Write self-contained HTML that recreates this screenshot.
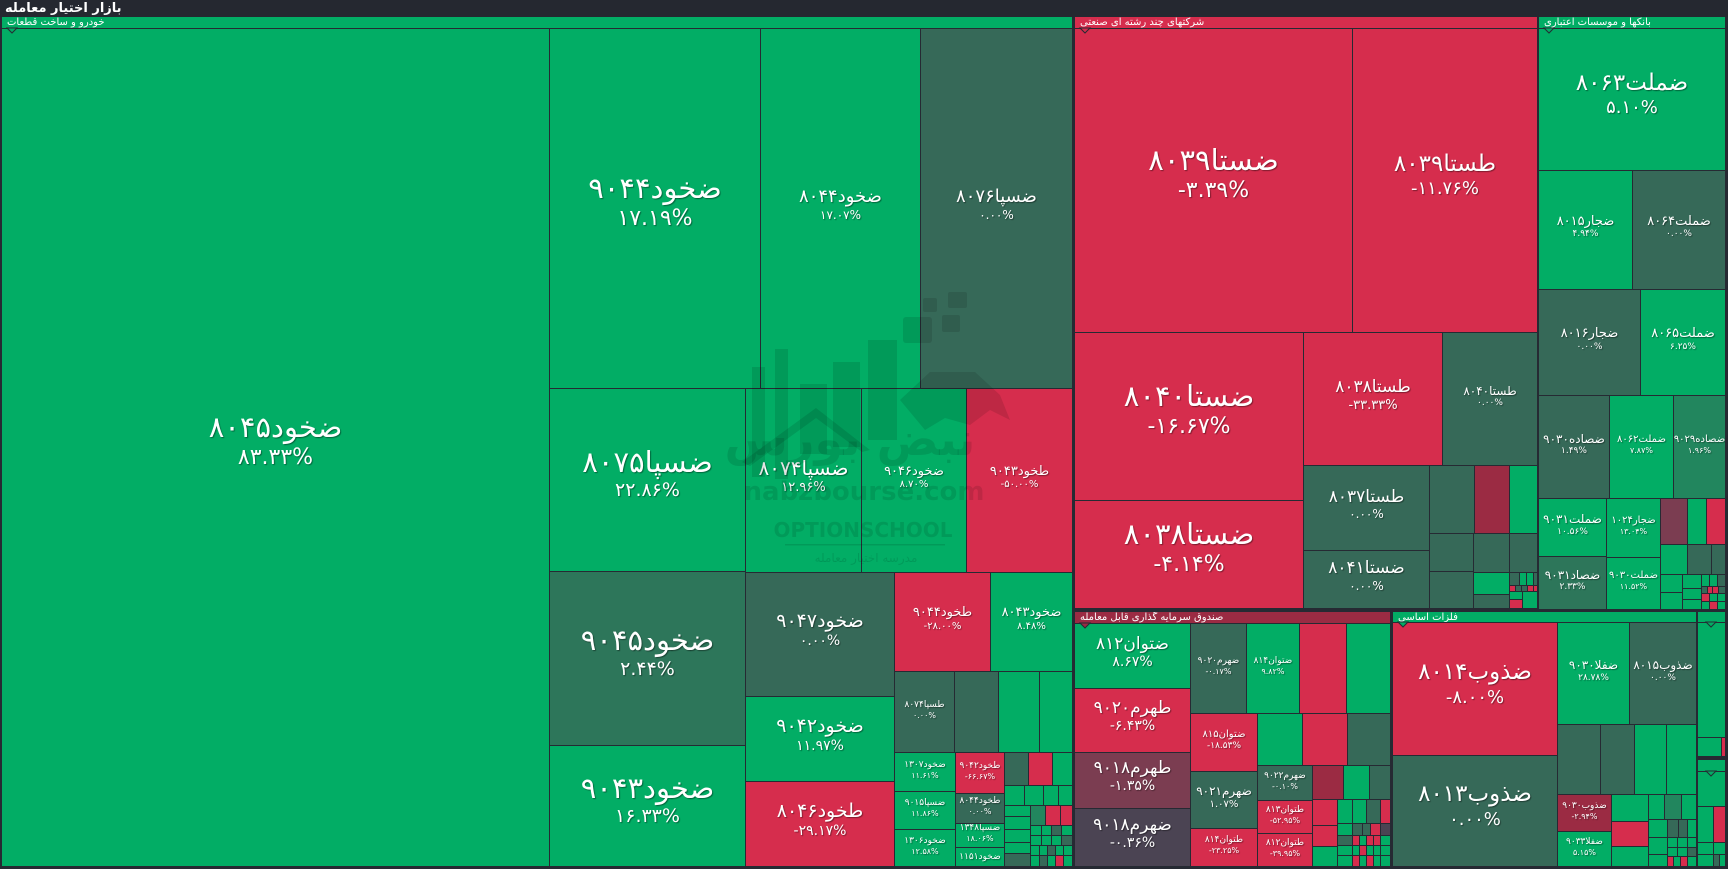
<!DOCTYPE html>
<html><head><meta charset="utf-8">
<style>
*{box-sizing:border-box}
body{margin:0;width:1728px;height:869px;background:#262a33;position:relative;overflow:hidden;font-family:"DejaVu Sans","Liberation Sans",sans-serif}
.t{position:absolute;display:flex;flex-direction:column;align-items:center;justify-content:center;color:#fff;overflow:hidden;text-shadow:1px 1px 1px rgba(0,0,0,.4)}
.n{direction:rtl;white-space:nowrap;line-height:1.2;margin-top:-0.45em}
.p{direction:ltr;white-space:nowrap;line-height:1.2}
.g{background:#02ad65}.d{background:#366958}.r{background:#d62d4d}.dr{background:#9b2b43}
.pu{background:#7b3d51}.gp{background:#4b4453}.m{background:#22865e}.m2{background:#2d765a}
.h{position:absolute;color:#fff;font-size:10px;line-height:11px;padding-left:5px;white-space:nowrap;overflow:hidden}
.ttl{position:absolute;left:5px;top:1px;color:#fff;font-size:13px;font-weight:bold;line-height:15px;direction:rtl}
</style></head><body>
<div style="position:absolute;left:0;top:0;width:1728px;height:17px;background:#252830"></div>
<div class="ttl">بازار اختیار معامله</div>

<!-- Sector 1 -->
<div class="h g" style="left:2px;top:17px;width:1070px;height:11px"><span>خودرو و ساخت قطعات</span></div>
<div class="t g" style="left:2px;top:29px;width:547px;height:837px"><div class="n" style="font-size:29px">ضخود۸۰۴۵</div><div class="p" style="font-size:22px">۸۳.۳۳%</div></div>
<div class="t g" style="left:550px;top:29px;width:210px;height:359px"><div class="n" style="font-size:29px">ضخود۹۰۴۴</div><div class="p" style="font-size:22px">۱۷.۱۹%</div></div>
<div class="t g" style="left:761px;top:29px;width:159px;height:359px"><div class="n" style="font-size:18px">ضخود۸۰۴۴</div><div class="p" style="font-size:12px">۱۷.۰۷%</div></div>
<div class="t d" style="left:921px;top:29px;width:151px;height:359px"><div class="n" style="font-size:18px">ضسپا۸۰۷۶</div><div class="p" style="font-size:12px">۰.۰۰%</div></div>
<div class="t g" style="left:550px;top:389px;width:195px;height:182px"><div class="n" style="font-size:29px">ضسپا۸۰۷۵</div><div class="p" style="font-size:19px">۲۲.۸۶%</div></div>
<div class="t m2" style="left:550px;top:572px;width:195px;height:173px"><div class="n" style="font-size:29px">ضخود۹۰۴۵</div><div class="p" style="font-size:19px">۲.۴۴%</div></div>
<div class="t g" style="left:550px;top:746px;width:195px;height:120px"><div class="n" style="font-size:29px">ضخود۹۰۴۳</div><div class="p" style="font-size:19px">۱۶.۳۳%</div></div>
<div class="t g" style="left:746px;top:389px;width:115px;height:183px"><div class="n" style="font-size:20px">ضسپا۸۰۷۴</div><div class="p" style="font-size:13px">۱۲.۹۶%</div></div>
<div class="t g" style="left:862px;top:389px;width:104px;height:183px"><div class="n" style="font-size:13px">ضخود۹۰۴۶</div><div class="p" style="font-size:10px">۸.۷۰%</div></div>
<div class="t r" style="left:967px;top:389px;width:105px;height:183px"><div class="n" style="font-size:13px">طخود۹۰۴۳</div><div class="p" style="font-size:10px">-۵۰.۰۰%</div></div>
<div class="t d" style="left:746px;top:573px;width:148px;height:123px"><div class="n" style="font-size:19px">ضخود۹۰۴۷</div><div class="p" style="font-size:14px">۰.۰۰%</div></div>
<div class="t g" style="left:746px;top:697px;width:148px;height:84px"><div class="n" style="font-size:19px">ضخود۹۰۴۲</div><div class="p" style="font-size:14px">۱۱.۹۷%</div></div>
<div class="t r" style="left:746px;top:782px;width:148px;height:84px"><div class="n" style="font-size:19px">طخود۸۰۴۶</div><div class="p" style="font-size:14px">-۲۹.۱۷%</div></div>
<div class="t r" style="left:895px;top:573px;width:95px;height:98px"><div class="n" style="font-size:13px">طخود۹۰۴۴</div><div class="p" style="font-size:10px">-۲۸.۰۰%</div></div>
<div class="t g" style="left:991px;top:573px;width:81px;height:98px"><div class="n" style="font-size:13px">ضخود۸۰۴۳</div><div class="p" style="font-size:10px">۸.۴۸%</div></div>
<div class="t d" style="left:895px;top:672px;width:59px;height:80px"><div class="n" style="font-size:9px">طسپا۸۰۷۴</div><div class="p" style="font-size:8px">۰.۰۰%</div></div>
<div class="t d" style="left:955px;top:672px;width:43px;height:80px"></div>
<div class="t g" style="left:999px;top:672px;width:40px;height:80px"></div>
<div class="t g" style="left:1040px;top:672px;width:32px;height:80px"></div>
<div class="t g" style="left:895px;top:753px;width:60px;height:38px"><div class="n" style="font-size:9px">ضخود۱۳۰۷</div><div class="p" style="font-size:8px">۱۱.۶۱%</div></div>
<div class="t g" style="left:895px;top:792px;width:60px;height:37px"><div class="n" style="font-size:9px">ضسپا۹۰۱۵</div><div class="p" style="font-size:8px">۱۱.۸۶%</div></div>
<div class="t g" style="left:895px;top:830px;width:60px;height:36px"><div class="n" style="font-size:9px">ضخود۱۳۰۶</div><div class="p" style="font-size:8px">۱۲.۵۸%</div></div>
<div class="t r" style="left:956px;top:753px;width:48px;height:40px"><div class="n" style="font-size:9px">طخود۹۰۴۲</div><div class="p" style="font-size:8px">-۶۶.۶۷%</div></div>
<div class="t d" style="left:956px;top:794px;width:48px;height:29px"><div class="n" style="font-size:9px">طخود۸۰۴۴</div><div class="p" style="font-size:8px">۰.۰۰%</div></div>
<div class="t g" style="left:956px;top:824px;width:48px;height:23px"><div class="n" style="font-size:9px">ضسپا۱۳۴۸</div><div class="p" style="font-size:8px">۱۸.۰۶%</div></div>
<div class="t g" style="left:956px;top:848px;width:48px;height:18px"><div class="n" style="font-size:9px;margin-top:0">ضخود۱۱۵۱</div></div>
<div class="t d" style="left:1005px;top:753px;width:23px;height:32px"></div>
<div class="t r" style="left:1029px;top:753px;width:23px;height:32px"></div>
<div class="t g" style="left:1053px;top:753px;width:19px;height:32px"></div>
<div class="t g" style="left:1005px;top:786px;width:19px;height:19px"></div>
<div class="t g" style="left:1025px;top:786px;width:18px;height:19px"></div>
<div class="t g" style="left:1044px;top:786px;width:14px;height:19px"></div>
<div class="t g" style="left:1059px;top:786px;width:13px;height:19px"></div>
<div class="t g" style="left:1005px;top:806px;width:25px;height:10px"></div>
<div class="t g" style="left:1005px;top:817px;width:25px;height:12px"></div>
<div class="t g" style="left:1005px;top:830px;width:25px;height:12px"></div>
<div class="t g" style="left:1005px;top:843px;width:25px;height:10px"></div>
<div class="t d" style="left:1005px;top:854px;width:25px;height:12px"></div>
<div class="t m" style="left:1031px;top:806px;width:14px;height:19px"></div>
<div class="t r" style="left:1046px;top:806px;width:14px;height:19px"></div>
<div class="t r" style="left:1061px;top:806px;width:11px;height:19px"></div>
<div class="t g" style="left:1031px;top:826px;width:10px;height:9px"></div>
<div class="t g" style="left:1042px;top:826px;width:9px;height:9px"></div>
<div class="t d" style="left:1052px;top:826px;width:9px;height:9px"></div>
<div class="t g" style="left:1062px;top:826px;width:10px;height:9px"></div>
<div class="t g" style="left:1031px;top:836px;width:10px;height:9px"></div>
<div class="t g" style="left:1042px;top:836px;width:9px;height:9px"></div>
<div class="t g" style="left:1052px;top:836px;width:9px;height:9px"></div>
<div class="t d" style="left:1062px;top:836px;width:10px;height:9px"></div>
<div class="t g" style="left:1031px;top:846px;width:8px;height:9px"></div>
<div class="t g" style="left:1040px;top:846px;width:7px;height:9px"></div>
<div class="t d" style="left:1048px;top:846px;width:7px;height:9px"></div>
<div class="t g" style="left:1056px;top:846px;width:7px;height:9px"></div>
<div class="t g" style="left:1064px;top:846px;width:8px;height:9px"></div>
<div class="t g" style="left:1031px;top:856px;width:8px;height:10px"></div>
<div class="t d" style="left:1040px;top:856px;width:7px;height:10px"></div>
<div class="t g" style="left:1048px;top:856px;width:7px;height:10px"></div>
<div class="t r" style="left:1056px;top:856px;width:7px;height:10px"></div>
<div class="t g" style="left:1064px;top:856px;width:8px;height:10px"></div>

<!-- Sector 2 -->
<div class="h r" style="left:1075px;top:17px;width:462px;height:11px"><span>شرکتهای چند رشته ای صنعتی</span></div>
<div class="t r" style="left:1075px;top:29px;width:277px;height:303px"><div class="n" style="font-size:29px">ضستا۸۰۳۹</div><div class="p" style="font-size:22px">-۳.۳۹%</div></div>
<div class="t r" style="left:1353px;top:29px;width:184px;height:303px"><div class="n" style="font-size:23px">طستا۸۰۳۹</div><div class="p" style="font-size:18px">-۱۱.۷۶%</div></div>
<div class="t r" style="left:1075px;top:333px;width:228px;height:167px"><div class="n" style="font-size:29px">ضستا۸۰۴۰</div><div class="p" style="font-size:22px">-۱۶.۶۷%</div></div>
<div class="t r" style="left:1075px;top:501px;width:228px;height:107px"><div class="n" style="font-size:29px">ضستا۸۰۳۸</div><div class="p" style="font-size:22px">-۴.۱۴%</div></div>
<div class="t r" style="left:1304px;top:333px;width:138px;height:132px"><div class="n" style="font-size:17px">طستا۸۰۳۸</div><div class="p" style="font-size:13px">-۳۳.۳۳%</div></div>
<div class="t d" style="left:1443px;top:333px;width:94px;height:132px"><div class="n" style="font-size:12px">طستا۸۰۴۰</div><div class="p" style="font-size:9px">۰.۰۰%</div></div>
<div class="t d" style="left:1304px;top:466px;width:125px;height:84px"><div class="n" style="font-size:17px">طستا۸۰۳۷</div><div class="p" style="font-size:12px">۰.۰۰%</div></div>
<div class="t d" style="left:1304px;top:551px;width:125px;height:57px"><div class="n" style="font-size:17px">ضستا۸۰۴۱</div><div class="p" style="font-size:12px">۰.۰۰%</div></div>
<div class="t d" style="left:1430px;top:466px;width:44px;height:67px"></div>
<div class="t dr" style="left:1475px;top:466px;width:34px;height:67px"></div>
<div class="t g" style="left:1510px;top:466px;width:27px;height:67px"></div>
<div class="t d" style="left:1430px;top:534px;width:43px;height:37px"></div>
<div class="t d" style="left:1474px;top:534px;width:35px;height:38px"></div>
<div class="t d" style="left:1510px;top:534px;width:27px;height:38px"></div>
<div class="t d" style="left:1430px;top:572px;width:43px;height:36px"></div>
<div class="t g" style="left:1474px;top:573px;width:35px;height:21px"></div>
<div class="t d" style="left:1474px;top:595px;width:35px;height:13px"></div>
<div class="t d" style="left:1510px;top:573px;width:9px;height:12px"></div>
<div class="t g" style="left:1520px;top:573px;width:6px;height:12px"></div>
<div class="t g" style="left:1527px;top:573px;width:6px;height:12px"></div>
<div class="t d" style="left:1534px;top:573px;width:3px;height:12px"></div>
<div class="t r" style="left:1510px;top:586px;width:5px;height:5px"></div>
<div class="t d" style="left:1516px;top:586px;width:5px;height:5px"></div>
<div class="t d" style="left:1522px;top:586px;width:5px;height:5px"></div>
<div class="t r" style="left:1528px;top:586px;width:5px;height:5px"></div>
<div class="t r" style="left:1534px;top:586px;width:3px;height:5px"></div>
<div class="t g" style="left:1510px;top:592px;width:12px;height:7px"></div>
<div class="t r" style="left:1510px;top:600px;width:12px;height:8px"></div>
<div class="t g" style="left:1523px;top:592px;width:14px;height:16px"></div>

<!-- Banks -->
<div class="h g" style="left:1539px;top:17px;width:186px;height:11px"><span>بانکها و موسسات اعتباری</span></div>
<div class="t g" style="left:1539px;top:29px;width:186px;height:141px"><div class="n" style="font-size:23px">ضملت۸۰۶۳</div><div class="p" style="font-size:18px">۵.۱۰%</div></div>
<div class="t g" style="left:1539px;top:171px;width:93px;height:118px"><div class="n" style="font-size:13px">ضجار۸۰۱۵</div><div class="p" style="font-size:9px">۴.۹۴%</div></div>
<div class="t d" style="left:1633px;top:171px;width:92px;height:118px"><div class="n" style="font-size:13px">ضملت۸۰۶۴</div><div class="p" style="font-size:9px">۰.۰۰%</div></div>
<div class="t d" style="left:1539px;top:290px;width:101px;height:105px"><div class="n" style="font-size:13px">ضجار۸۰۱۶</div><div class="p" style="font-size:9px">۰.۰۰%</div></div>
<div class="t g" style="left:1641px;top:290px;width:84px;height:105px"><div class="n" style="font-size:13px">ضملت۸۰۶۵</div><div class="p" style="font-size:9px">۶.۲۵%</div></div>
<div class="t d" style="left:1539px;top:396px;width:70px;height:102px"><div class="n" style="font-size:12px">ضصاده۹۰۳۰</div><div class="p" style="font-size:9px">۱.۴۹%</div></div>
<div class="t g" style="left:1610px;top:396px;width:63px;height:102px"><div class="n" style="font-size:10px">ضملت۸۰۶۲</div><div class="p" style="font-size:8px">۷.۸۷%</div></div>
<div class="t m" style="left:1674px;top:396px;width:51px;height:102px"><div class="n" style="font-size:10px">ضصاده۹۰۲۹</div><div class="p" style="font-size:8px">۱.۹۶%</div></div>
<div class="t g" style="left:1539px;top:499px;width:67px;height:57px"><div class="n" style="font-size:12px">ضملت۹۰۳۱</div><div class="p" style="font-size:9px">۱۰.۵۶%</div></div>
<div class="t m2" style="left:1539px;top:557px;width:67px;height:52px"><div class="n" style="font-size:12px">ضصاد۹۰۳۱</div><div class="p" style="font-size:9px">۲.۳۳%</div></div>
<div class="t g" style="left:1607px;top:499px;width:53px;height:58px"><div class="n" style="font-size:10px">ضجار۱۰۲۴</div><div class="p" style="font-size:8px">۱۳.۰۴%</div></div>
<div class="t g" style="left:1607px;top:558px;width:53px;height:51px"><div class="n" style="font-size:10px">ضملت۹۰۳۰</div><div class="p" style="font-size:8px">۱۱.۵۲%</div></div>
<div class="t pu" style="left:1661px;top:499px;width:26px;height:45px"></div>
<div class="t g" style="left:1688px;top:499px;width:18px;height:45px"></div>
<div class="t r" style="left:1707px;top:499px;width:18px;height:45px"></div>
<div class="t g" style="left:1661px;top:545px;width:26px;height:29px"></div>
<div class="t d" style="left:1688px;top:545px;width:23px;height:29px"></div>
<div class="t d" style="left:1712px;top:545px;width:13px;height:29px"></div>
<div class="t g" style="left:1661px;top:575px;width:21px;height:17px"></div>
<div class="t g" style="left:1661px;top:593px;width:21px;height:16px"></div>
<div class="t g" style="left:1683px;top:575px;width:18px;height:13px"></div>
<div class="t g" style="left:1683px;top:589px;width:18px;height:10px"></div>
<div class="t g" style="left:1683px;top:600px;width:18px;height:9px"></div>
<div class="t g" style="left:1702px;top:575px;width:7px;height:11px"></div>
<div class="t g" style="left:1710px;top:575px;width:7px;height:11px"></div>
<div class="t d" style="left:1718px;top:575px;width:7px;height:11px"></div>
<div class="t d" style="left:1702px;top:587px;width:5px;height:6px"></div>
<div class="t r" style="left:1708px;top:587px;width:4px;height:6px"></div>
<div class="t r" style="left:1713px;top:587px;width:5px;height:6px"></div>
<div class="t d" style="left:1719px;top:587px;width:6px;height:6px"></div>
<div class="t r" style="left:1702px;top:594px;width:7px;height:7px"></div>
<div class="t g" style="left:1710px;top:594px;width:7px;height:7px"></div>
<div class="t g" style="left:1718px;top:594px;width:7px;height:7px"></div>
<div class="t g" style="left:1702px;top:602px;width:7px;height:7px"></div>
<div class="t r" style="left:1710px;top:602px;width:7px;height:7px"></div>
<div class="t g" style="left:1718px;top:602px;width:7px;height:7px"></div>

<!-- ETF sector -->
<div class="h dr" style="left:1075px;top:612px;width:315px;height:11px"><span>صندوق سرمایه گذاری قابل معامله</span></div>
<div class="t g" style="left:1075px;top:624px;width:115px;height:64px"><div class="n" style="font-size:17px">ضتوان۸۱۲</div><div class="p" style="font-size:14px">۸.۶۷%</div></div>
<div class="t r" style="left:1075px;top:689px;width:115px;height:63px"><div class="n" style="font-size:17px">طهرم۹۰۲۰</div><div class="p" style="font-size:14px">-۶.۴۳%</div></div>
<div class="t pu" style="left:1075px;top:753px;width:115px;height:55px"><div class="n" style="font-size:17px">طهرم۹۰۱۸</div><div class="p" style="font-size:14px">-۱.۳۵%</div></div>
<div class="t gp" style="left:1075px;top:809px;width:115px;height:57px"><div class="n" style="font-size:17px">ضهرم۹۰۱۸</div><div class="p" style="font-size:14px">-۰.۳۶%</div></div>
<div class="t d" style="left:1191px;top:624px;width:55px;height:89px"><div class="n" style="font-size:9px">ضهرم۹۰۲۰</div><div class="p" style="font-size:8px">-۰.۱۷%</div></div>
<div class="t g" style="left:1247px;top:624px;width:52px;height:89px"><div class="n" style="font-size:9px">ضتوان۸۱۴</div><div class="p" style="font-size:8px">۹.۸۲%</div></div>
<div class="t r" style="left:1300px;top:624px;width:46px;height:89px"></div>
<div class="t g" style="left:1347px;top:624px;width:43px;height:89px"></div>
<div class="t r" style="left:1191px;top:714px;width:66px;height:57px"><div class="n" style="font-size:10px">ضتوان۸۱۵</div><div class="p" style="font-size:9px">-۱۸.۵۳%</div></div>
<div class="t g" style="left:1258px;top:714px;width:44px;height:51px"></div>
<div class="t r" style="left:1303px;top:714px;width:44px;height:51px"></div>
<div class="t d" style="left:1348px;top:714px;width:42px;height:51px"></div>
<div class="t d" style="left:1191px;top:772px;width:66px;height:56px"><div class="n" style="font-size:12px">ضهرم۹۰۲۱</div><div class="p" style="font-size:10px">۱.۰۷%</div></div>
<div class="t r" style="left:1191px;top:829px;width:66px;height:37px"><div class="n" style="font-size:9px">طتوان۸۱۴</div><div class="p" style="font-size:8px">-۲۳.۲۵%</div></div>
<div class="t d" style="left:1258px;top:766px;width:54px;height:34px"><div class="n" style="font-size:9px">ضهرم۹۰۲۲</div><div class="p" style="font-size:8px">-۰.۱۰%</div></div>
<div class="t r" style="left:1258px;top:801px;width:54px;height:32px"><div class="n" style="font-size:9px">طتوان۸۱۳</div><div class="p" style="font-size:8px">-۵۲.۹۵%</div></div>
<div class="t r" style="left:1258px;top:834px;width:54px;height:32px"><div class="n" style="font-size:9px">طتوان۸۱۲</div><div class="p" style="font-size:8px">-۳۹.۹۵%</div></div>
<div class="t dr" style="left:1313px;top:766px;width:30px;height:33px"></div>
<div class="t g" style="left:1344px;top:766px;width:25px;height:33px"></div>
<div class="t d" style="left:1370px;top:766px;width:20px;height:33px"></div>
<div class="t r" style="left:1313px;top:800px;width:24px;height:25px"></div>
<div class="t r" style="left:1313px;top:826px;width:24px;height:20px"></div>
<div class="t g" style="left:1313px;top:847px;width:24px;height:19px"></div>
<div class="t g" style="left:1338px;top:800px;width:14px;height:23px"></div>
<div class="t g" style="left:1353px;top:800px;width:13px;height:23px"></div>
<div class="t d" style="left:1367px;top:800px;width:13px;height:23px"></div>
<div class="t r" style="left:1381px;top:800px;width:9px;height:23px"></div>
<div class="t g" style="left:1338px;top:824px;width:14px;height:11px"></div>
<div class="t d" style="left:1338px;top:836px;width:14px;height:9px"></div>
<div class="t g" style="left:1338px;top:846px;width:14px;height:9px"></div>
<div class="t g" style="left:1338px;top:856px;width:14px;height:10px"></div>
<div class="t d" style="left:1353px;top:824px;width:9px;height:11px"></div>
<div class="t d" style="left:1363px;top:824px;width:7px;height:11px"></div>
<div class="t r" style="left:1371px;top:824px;width:9px;height:11px"></div>
<div class="t gp" style="left:1381px;top:824px;width:9px;height:11px"></div>
<div class="t r" style="left:1353px;top:836px;width:6px;height:9px"></div>
<div class="t g" style="left:1360px;top:836px;width:6px;height:9px"></div>
<div class="t r" style="left:1367px;top:836px;width:6px;height:9px"></div>
<div class="t r" style="left:1374px;top:836px;width:6px;height:9px"></div>
<div class="t g" style="left:1381px;top:836px;width:9px;height:9px"></div>
<div class="t g" style="left:1353px;top:846px;width:6px;height:9px"></div>
<div class="t r" style="left:1360px;top:846px;width:6px;height:9px"></div>
<div class="t g" style="left:1367px;top:846px;width:6px;height:9px"></div>
<div class="t g" style="left:1374px;top:846px;width:6px;height:9px"></div>
<div class="t g" style="left:1381px;top:846px;width:9px;height:9px"></div>
<div class="t r" style="left:1353px;top:856px;width:6px;height:10px"></div>
<div class="t g" style="left:1360px;top:856px;width:6px;height:10px"></div>
<div class="t r" style="left:1367px;top:856px;width:6px;height:10px"></div>
<div class="t g" style="left:1374px;top:856px;width:6px;height:10px"></div>
<div class="t g" style="left:1381px;top:856px;width:9px;height:10px"></div>

<!-- Base metals -->
<div class="h g" style="left:1393px;top:612px;width:303px;height:10px"><span>فلزات اساسی</span></div>
<div class="t r" style="left:1393px;top:623px;width:164px;height:132px"><div class="n" style="font-size:23px">ضذوب۸۰۱۴</div><div class="p" style="font-size:18px">-۸.۰۰%</div></div>
<div class="t d" style="left:1393px;top:756px;width:164px;height:110px"><div class="n" style="font-size:23px">ضذوب۸۰۱۳</div><div class="p" style="font-size:18px">۰.۰۰%</div></div>
<div class="t g" style="left:1558px;top:623px;width:71px;height:101px"><div class="n" style="font-size:12px">ضفلا۹۰۳۰</div><div class="p" style="font-size:9px">۲۸.۷۸%</div></div>
<div class="t d" style="left:1630px;top:623px;width:66px;height:101px"><div class="n" style="font-size:12px">ضذوب۸۰۱۵</div><div class="p" style="font-size:9px">۰.۰۰%</div></div>
<div class="t d" style="left:1558px;top:725px;width:42px;height:69px"></div>
<div class="t d" style="left:1601px;top:725px;width:33px;height:69px"></div>
<div class="t g" style="left:1635px;top:725px;width:31px;height:69px"></div>
<div class="t g" style="left:1667px;top:725px;width:29px;height:69px"></div>
<div class="t dr" style="left:1558px;top:795px;width:53px;height:36px"><div class="n" style="font-size:9px">ضذوب۹۰۳۰</div><div class="p" style="font-size:8px">-۲.۹۴%</div></div>
<div class="t g" style="left:1558px;top:832px;width:53px;height:34px"><div class="n" style="font-size:9px">ضفلا۹۰۳۳</div><div class="p" style="font-size:8px">۵.۱۵%</div></div>
<div class="t g" style="left:1612px;top:795px;width:36px;height:26px"></div>
<div class="t r" style="left:1612px;top:822px;width:36px;height:24px"></div>
<div class="t g" style="left:1612px;top:847px;width:36px;height:19px"></div>
<div class="t g" style="left:1649px;top:795px;width:15px;height:24px"></div>
<div class="t m" style="left:1665px;top:795px;width:16px;height:24px"></div>
<div class="t g" style="left:1682px;top:795px;width:14px;height:24px"></div>
<div class="t g" style="left:1649px;top:820px;width:18px;height:17px"></div>
<div class="t d" style="left:1668px;top:820px;width:10px;height:17px"></div>
<div class="t d" style="left:1679px;top:820px;width:8px;height:17px"></div>
<div class="t g" style="left:1688px;top:820px;width:8px;height:17px"></div>
<div class="t g" style="left:1649px;top:838px;width:18px;height:16px"></div>
<div class="t g" style="left:1649px;top:855px;width:18px;height:11px"></div>
<div class="t g" style="left:1668px;top:838px;width:9px;height:9px"></div>
<div class="t g" style="left:1678px;top:838px;width:9px;height:9px"></div>
<div class="t g" style="left:1688px;top:838px;width:8px;height:9px"></div>
<div class="t g" style="left:1668px;top:848px;width:9px;height:8px"></div>
<div class="t g" style="left:1678px;top:848px;width:9px;height:8px"></div>
<div class="t d" style="left:1688px;top:848px;width:8px;height:8px"></div>
<div class="t r" style="left:1668px;top:857px;width:5px;height:9px"></div>
<div class="t g" style="left:1674px;top:857px;width:6px;height:9px"></div>
<div class="t r" style="left:1681px;top:857px;width:6px;height:9px"></div>
<div class="t g" style="left:1688px;top:857px;width:8px;height:9px"></div>

<!-- Right narrow sectors -->
<div class="h g" style="left:1698px;top:612px;width:27px;height:10px"></div>
<div class="t g" style="left:1698px;top:623px;width:27px;height:114px"></div>
<div class="t g" style="left:1698px;top:738px;width:23px;height:18px"></div>
<div class="t r" style="left:1722px;top:738px;width:3px;height:18px"></div>
<div class="h g" style="left:1698px;top:760px;width:27px;height:11px"></div>
<div class="t g" style="left:1698px;top:772px;width:27px;height:34px"></div>
<div class="t g" style="left:1698px;top:807px;width:15px;height:35px"></div>
<div class="t r" style="left:1714px;top:807px;width:11px;height:35px"></div>
<div class="t g" style="left:1698px;top:843px;width:15px;height:11px"></div>
<div class="t g" style="left:1714px;top:843px;width:11px;height:11px"></div>
<div class="t g" style="left:1698px;top:855px;width:15px;height:11px"></div>
<div class="t d" style="left:1714px;top:855px;width:5px;height:11px"></div>
<div class="t g" style="left:1720px;top:855px;width:5px;height:11px"></div>

<!-- header chevrons + watermark -->
<svg width="1728" height="869" style="position:absolute;left:0;top:0;pointer-events:none" xmlns="http://www.w3.org/2000/svg">
<g stroke="#262a33" stroke-width="1">
<polygon points="7,28 17,28 12,33" fill="#02ad65"/>
<polygon points="1080,28 1090,28 1085,33" fill="#d62d4d"/>
<polygon points="1544,28 1554,28 1549,33" fill="#02ad65"/>
<polygon points="1080,623 1090,623 1085,628" fill="#9b2b43"/>
<polygon points="1398,622 1408,622 1403,627" fill="#02ad65"/>
<polygon points="1706,622 1716,622 1711,627" fill="#02ad65"/>
<polygon points="1706,771 1716,771 1711,776" fill="#02ad65"/>
</g>
<g fill="rgba(0,0,0,0.11)">
<rect x="752" y="367" width="13" height="110"/>
<rect x="775" y="349" width="13" height="130"/>
<rect x="800" y="384" width="27" height="70"/>
<rect x="833" y="362" width="27" height="85"/>
<rect x="868" y="340" width="29" height="100"/>
<rect x="903" y="317" width="29" height="26" rx="3"/>
<rect x="923" y="298" width="14" height="14" rx="2"/>
<rect x="948" y="292" width="19" height="16" rx="2"/>
<rect x="942" y="315" width="18" height="17" rx="2"/>
<polygon points="900,400 930,372 975,372 1000,395 1010,420 990,410 970,425 945,418 925,430"/>
<polygon points="742,462 816,408 870,450 862,452 816,418 750,466"/>
<text x="850" y="455" font-size="46" font-weight="bold" text-anchor="middle" font-family="DejaVu Sans, sans-serif" direction="rtl">نبض بورس</text>
<text x="864" y="500" font-size="26" font-weight="bold" text-anchor="middle" font-family="DejaVu Sans, sans-serif">nabzbourse.com</text>
<text x="863" y="537" font-size="20" font-weight="bold" text-anchor="middle" font-family="DejaVu Sans, sans-serif">OPTIONSCHOOL</text>
<rect x="785" y="544" width="160" height="1.5"/>
<text x="866" y="562" font-size="12" text-anchor="middle" font-family="DejaVu Sans, sans-serif" direction="rtl">مدرسه اختیار معامله</text>
</g>
</svg>
</body></html>
